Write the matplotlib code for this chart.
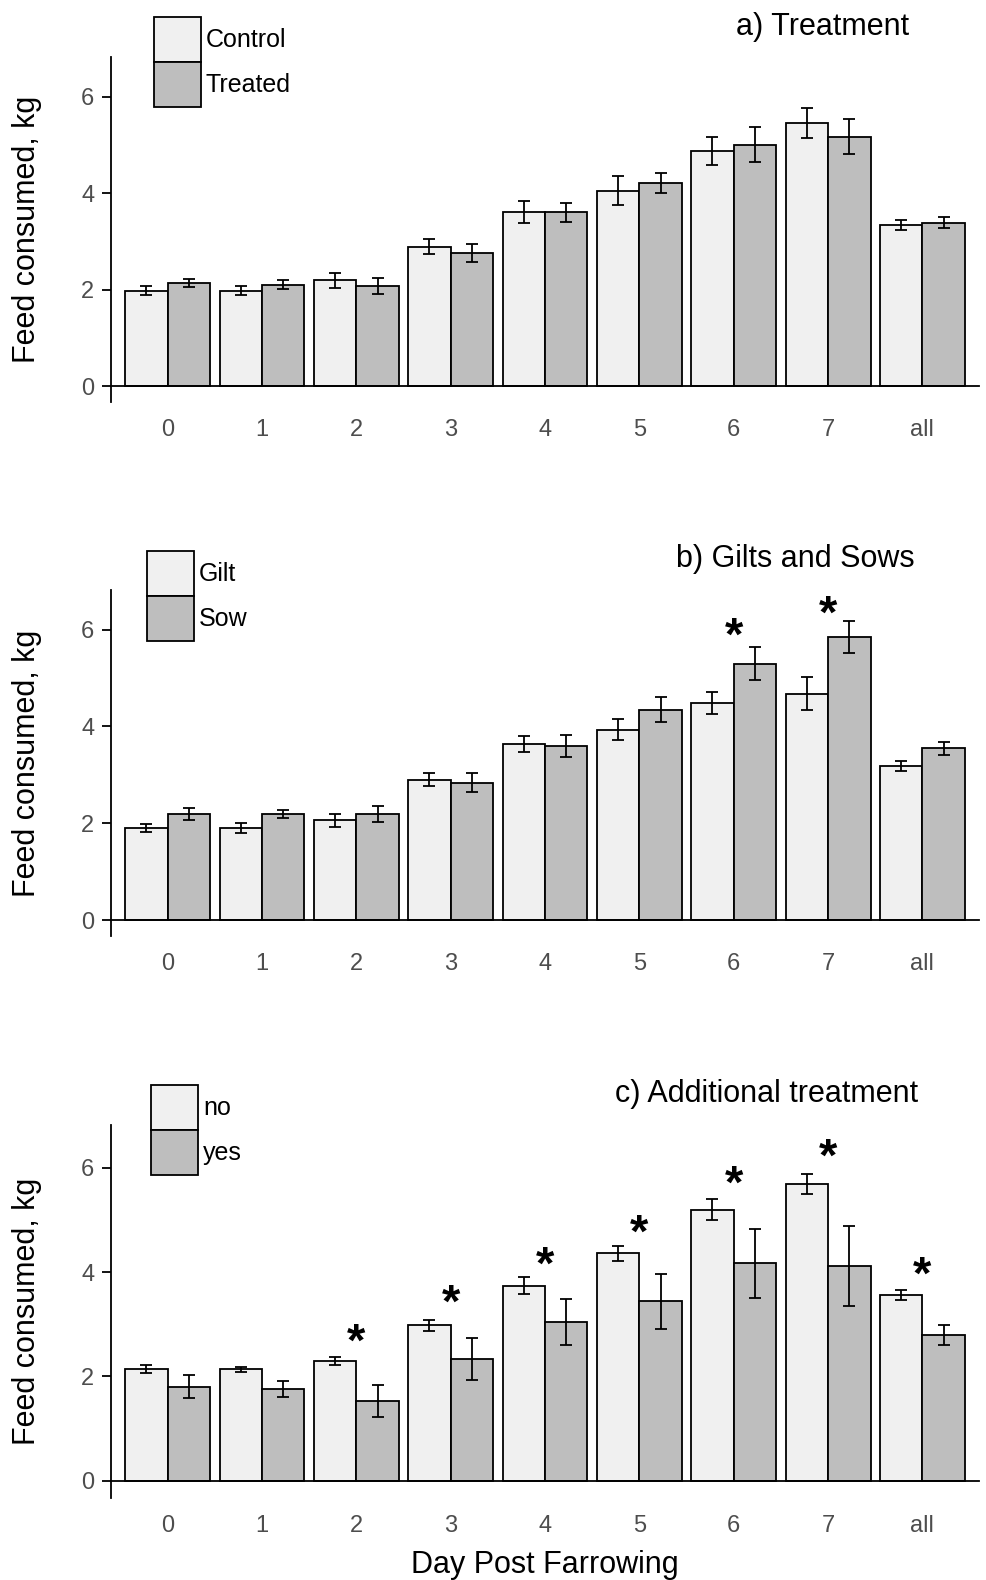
import numpy as np
import matplotlib
matplotlib.use('Agg')
import matplotlib.pyplot as plt
from matplotlib.patches import Patch

plt.rcParams['font.family'] = ['Liberation Sans', 'DejaVu Sans']

# data
days = ['0', '1', '2', '3', '4', '5', '6', '7', 'all']

a_ctrl = [1.98, 1.98, 2.19, 2.89, 3.60, 4.05, 4.87, 5.45, 3.34]
a_ctrl_se = [0.10, 0.10, 0.15, 0.16, 0.23, 0.30, 0.29, 0.31, 0.10]
a_trt = [2.14, 2.10, 2.07, 2.76, 3.60, 4.21, 5.00, 5.17, 3.39]
a_trt_se = [0.08, 0.09, 0.17, 0.19, 0.19, 0.20, 0.36, 0.37, 0.12]

b_gilt = [1.90, 1.90, 2.06, 2.90, 3.64, 3.93, 4.48, 4.68, 3.18]
b_gilt_se = [0.08, 0.10, 0.13, 0.14, 0.17, 0.22, 0.23, 0.34, 0.11]
b_sow = [2.19, 2.19, 2.19, 2.84, 3.60, 4.35, 5.30, 5.84, 3.55]
b_sow_se = [0.13, 0.09, 0.17, 0.19, 0.23, 0.25, 0.34, 0.33, 0.13]
b_star_days = ['6', '7']
b_star_y = [6.16, 6.60]

c_no = [2.14, 2.14, 2.30, 2.98, 3.74, 4.36, 5.20, 5.69, 3.56]
c_no_se = [0.07, 0.05, 0.075, 0.10, 0.16, 0.15, 0.20, 0.19, 0.09]
c_yes = [1.80, 1.76, 1.53, 2.34, 3.05, 3.44, 4.17, 4.12, 2.79]
c_yes_se = [0.22, 0.15, 0.31, 0.40, 0.44, 0.53, 0.66, 0.77, 0.19]
c_star_days = ['2', '3', '4', '5', '6', '7', 'all']
c_star_y = [2.92, 3.67, 4.39, 5.01, 5.96, 6.46, 4.20]

LIGHT = '#f0f0f0'
DARK = '#bebebe'
W, H = 986, 1580

panels = [
    dict(lo=a_ctrl, lo_se=a_ctrl_se, hi=a_trt, hi_se=a_trt_se,
         labels=['Control', 'Treated'], title='a) Treatment',
         stars=([], []), box=(57, 402), title_xy=(823, 35), leg_xy=(154, 17)),
    dict(lo=b_gilt, lo_se=b_gilt_se, hi=b_sow, hi_se=b_sow_se,
         labels=['Gilt', 'Sow'], title='b) Gilts and Sows',
         stars=(b_star_days, b_star_y), box=(590, 936), title_xy=(795, 567), leg_xy=(147, 551)),
    dict(lo=c_no, lo_se=c_no_se, hi=c_yes, hi_se=c_yes_se,
         labels=['no', 'yes'], title='c) Additional treatment',
         stars=(c_star_days, c_star_y), box=(1125, 1498), title_xy=(767, 1102), leg_xy=(151, 1085)),
]

fig = plt.figure(figsize=(W / 100, H / 100), dpi=100)
x = np.arange(len(days))
bw = 0.45
lw = 1.3
star_fs = 34

for p in panels:
    top, bot = p['box']
    ax = fig.add_axes([111 / W, 1 - bot / H, (979 - 111) / W, (bot - top) / H])
    ax.bar(x - bw / 2, p['lo'], bw, color=LIGHT, edgecolor='black', linewidth=lw, zorder=2)
    ax.bar(x + bw / 2, p['hi'], bw, color=DARK, edgecolor='black', linewidth=lw, zorder=2)
    ax.errorbar(x - bw / 2, p['lo'], yerr=p['lo_se'], fmt='none', ecolor='black',
                elinewidth=lw, capsize=4.5, capthick=lw, zorder=3)
    ax.errorbar(x + bw / 2, p['hi'], yerr=p['hi_se'], fmt='none', ecolor='black',
                elinewidth=lw, capsize=4.5, capthick=lw, zorder=3)
    ax.axhline(0, color='black', linewidth=lw, zorder=4, clip_on=False)

    for d, sy in zip(*p['stars']):
        ax.annotate('*', xy=(days.index(d), sy), xytext=(0, -0.58 * star_fs),
                    textcoords='offset points', ha='center', va='baseline',
                    fontsize=star_fs, fontweight='bold')

    ax.set_xlim(-0.6, 8.6)
    ax.set_ylim(-0.33, 6.82)
    ax.set_xticks(x)
    ax.set_xticklabels(days)
    ax.set_yticks([0, 2, 4, 6])
    for s in ['top', 'right', 'bottom']:
        ax.spines[s].set_visible(False)
    ax.spines['left'].set_linewidth(lw)
    ax.tick_params(axis='x', length=0, pad=12.5, labelsize=17, labelcolor='#4d4d4d')
    ax.tick_params(axis='y', length=6.5, width=lw, pad=5.5, labelsize=17, labelcolor='#4d4d4d')

    handles = [Patch(facecolor=LIGHT, edgecolor='black', linewidth=lw),
               Patch(facecolor=DARK, edgecolor='black', linewidth=lw)]
    lx, ly = p['leg_xy']
    fig.legend(handles, p['labels'], loc='upper left',
               bbox_to_anchor=(lx / W, 1 - ly / H), bbox_transform=fig.transFigure,
               frameon=False, fontsize=18, handlelength=1.88, handleheight=2.39,
               labelspacing=0, handletextpad=0.2, borderpad=0, borderaxespad=0)

    tx, ty = p['title_xy']
    fig.text(tx / W, 1 - ty / H, p['title'], ha='center', va='baseline', fontsize=22)
    fig.text(27 / W, 1 - (top + bot) / 2 / H, 'Feed consumed, kg', rotation=90,
             ha='center', va='center', fontsize=22)

fig.text(545 / W, 1 - 1573 / H, 'Day Post Farrowing', ha='center', va='baseline', fontsize=22)

fig.savefig('out.png', dpi=100)
